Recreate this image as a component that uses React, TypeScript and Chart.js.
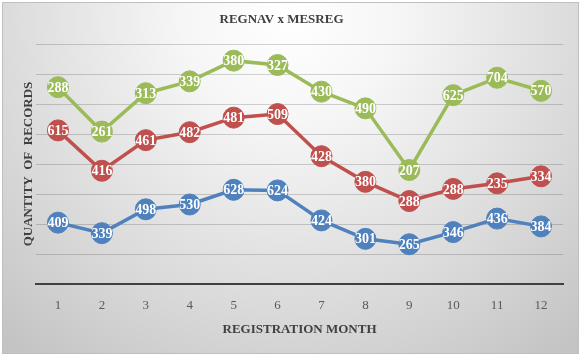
import React, { useEffect, useRef } from 'react';
import { Chart, registerables } from 'chart.js';

Chart.register(...registerables);

const months = ['1', '2', '3', '4', '5', '6', '7', '8', '9', '10', '11', '12'];
const blueValues = [409, 339, 498, 530, 628, 624, 424, 301, 265, 346, 436, 384];
const redValues = [615, 416, 461, 482, 481, 509, 428, 380, 288, 288, 235, 334];
const greenValues = [288, 261, 313, 339, 380, 327, 430, 490, 207, 625, 704, 570];
const yMax = 1600;
const yStep = 200;

const SERIF = "'Liberation Serif', 'Times New Roman', serif";
const seriesLabels = [blueValues, redValues, greenValues];

const backgroundPlugin = {
  id: 'bgFrame',
  beforeDraw(chart: any) {
    const { ctx, width, height } = chart;
    ctx.save();
    ctx.fillStyle = '#ffffff';
    ctx.fillRect(0, 0, width, height);
    const g = ctx.createRadialGradient(290, 15, 0, 290, 15, 430);
    g.addColorStop(0, '#ffffff');
    g.addColorStop(0.25, '#f6f6f6');
    g.addColorStop(0.7, '#d9d9d9');
    g.addColorStop(1, '#c4c4c4');
    ctx.fillStyle = g;
    ctx.fillRect(2, 2, 577, 352);
    ctx.strokeStyle = '#bfbfbf';
    ctx.lineWidth = 1;
    ctx.strokeRect(2.5, 2.5, 576, 351);
    ctx.restore();
  },
};

const dataLabelPlugin = {
  id: 'pointValues',
  afterDatasetsDraw(chart: any) {
    const { ctx } = chart;
    ctx.save();
    ctx.font = `bold 14px ${SERIF}`;
    ctx.fillStyle = '#ffffff';
    ctx.textAlign = 'center';
    ctx.textBaseline = 'middle';
    chart.data.datasets.forEach((_ds: any, i: number) => {
      const meta = chart.getDatasetMeta(i);
      meta.data.forEach((pt: any, j: number) => {
        ctx.fillText(String(seriesLabels[i][j]), pt.x, pt.y + 1);
      });
    });
    ctx.restore();
  },
};

function makeSet(label: string, data: number[], color: string) {
  return {
    label,
    data,
    borderColor: color,
    backgroundColor: color,
    pointBackgroundColor: color,
    pointBorderColor: color,
    pointRadius: 10.5,
    pointBorderWidth: 1,
    borderWidth: 3.5,
    fill: false,
    tension: 0,
  };
}

export default function App() {
  const canvasRef = useRef<HTMLCanvasElement | null>(null);

  useEffect(() => {
    if (!canvasRef.current) return;
    const chart = new Chart(canvasRef.current, {
      type: 'line',
      data: {
        labels: months,
        datasets: [
          makeSet('Blue', blueValues, '#4F81BD'),
          makeSet('Red', redValues, '#C0504D'),
          makeSet('Green', greenValues, '#9BBB59'),
        ],
      },
      options: {
        animation: false,
        responsive: false,
        events: [],
        layout: { padding: { left: 0, right: 18, top: 0, bottom: 0 } },
        plugins: {
          legend: { display: false },
          tooltip: { enabled: false },
          title: {
            display: true,
            text: 'REGNAV x MESREG',
            color: '#404040',
            font: { family: SERIF, size: 13, weight: 'bold' },
            padding: { top: 12, bottom: 16.4 },
          },
        },
        scales: {
          x: {
            type: 'category',
            offset: true,
            grid: { display: false, drawTicks: false },
            border: { display: true, color: '#404040', width: 2 },
            ticks: {
              color: '#595959',
              font: { family: SERIF, size: 13 },
              padding: 14,
              maxRotation: 0,
              autoSkip: false,
            },
            title: {
              display: true,
              text: 'REGISTRATION MONTH',
              color: '#404040',
              font: { family: SERIF, size: 13, weight: 'bold' },
              padding: { top: 0, bottom: 20 },
            },
            afterFit(scale: any) {
              scale.height = 73;
            },
          },
          y: {
            stacked: true,
            min: 0,
            max: yMax,
            grid: { color: 'rgba(0,0,0,0.17)', lineWidth: 1, drawTicks: false },
            border: { display: false },
            ticks: { display: false, stepSize: yStep },
            title: {
              display: true,
              text: 'QUANTITY  OF  RECORDS',
              color: '#404040',
              font: { family: SERIF, size: 13, weight: 'bold' },
              padding: { top: 21, bottom: 0 },
            },
            afterFit(scale: any) {
              scale.width = 36;
            },
          },
        },
      } as any,
      plugins: [backgroundPlugin, dataLabelPlugin],
    });
    return () => chart.destroy();
  }, []);

  return (
    <div style={{ position: 'fixed', left: 0, top: 0, width: 581, height: 357 }}>
      <canvas ref={canvasRef} width={581} height={357} style={{ display: 'block' }} />
    </div>
  );
}
